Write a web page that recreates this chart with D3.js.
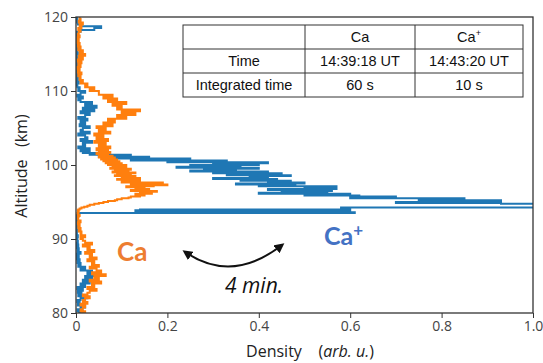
<!DOCTYPE html>
<html>
<head>
<meta charset="utf-8">
<script src="https://cdn.jsdelivr.net/npm/d3@7"></script>
<style>
  body { margin: 0; background: #fff; }
  svg { display: block; }
  text { white-space: pre; }
</style>
</head>
<body>
<script>
// altitude grid (km): 0.25 km steps, 0.125 km steps through the main layer
var altitude = [
  80.00, 80.25, 80.50, 80.75, 81.00, 81.25, 81.50, 81.75, 82.00, 82.25, 82.50, 82.75,
  83.00, 83.25, 83.50, 83.75, 84.00, 84.25, 84.50, 84.75, 85.00, 85.25, 85.50, 85.75,
  86.00, 86.25, 86.50, 86.75, 87.00, 87.25, 87.50, 87.75, 88.00, 88.25, 88.50, 88.75,
  89.00, 89.25, 89.50, 89.75, 90.00, 90.25, 90.50, 90.75, 91.00, 91.25, 91.50, 91.75,
  92.00, 92.25, 92.50, 92.75,
  93.000, 93.125, 93.250, 93.375, 93.500, 93.625, 93.750, 93.875,
  94.000, 94.125, 94.250, 94.375, 94.500, 94.625, 94.750, 94.875,
  95.000, 95.125, 95.250, 95.375, 95.500, 95.625, 95.750, 95.875,
  96.000, 96.125, 96.250, 96.375, 96.500, 96.625, 96.750, 96.875,
  97.000, 97.125, 97.250, 97.375, 97.500, 97.625, 97.750, 97.875,
  98.000, 98.125, 98.250, 98.375, 98.500, 98.625, 98.750, 98.875,
  99.000, 99.125, 99.250, 99.375, 99.500, 99.625, 99.750, 99.875,
  100.000, 100.125, 100.250, 100.375, 100.500, 100.625, 100.750, 100.875,
  101.000, 101.125, 101.250, 101.375, 101.500, 101.625, 101.750, 101.875,
  102.00, 102.25, 102.50, 102.75, 103.00, 103.25, 103.50, 103.75,
  104.00, 104.25, 104.50, 104.75, 105.00, 105.25, 105.50, 105.75, 106.00, 106.25, 106.50, 106.75,
  107.00, 107.25, 107.50, 107.75, 108.00, 108.25, 108.50, 108.75, 109.00, 109.25, 109.50, 109.75,
  110.00, 110.25, 110.50, 110.75, 111.00, 111.25, 111.50, 111.75, 112.00, 112.25, 112.50, 112.75,
  113.00, 113.25, 113.50, 113.75, 114.00, 114.25, 114.50, 114.75, 115.00, 115.25, 115.50, 115.75,
  116.00, 116.25, 116.50, 116.75, 117.00, 117.25, 117.50, 117.75, 118.00, 118.25, 118.50, 118.75,
  119.00, 119.25, 119.50, 119.75, 120.00
];

// Ca density (orange), one row per km
var caDensity = [
  0.010, 0.020, 0.010, 0.015,
  0.020, 0.010, 0.025, 0.015,
  0.020, 0.030, 0.015, 0.025,
  0.030, 0.045, 0.025, 0.040,
  0.035, 0.055, 0.030, 0.050,
  0.040, 0.065, 0.035, 0.055,
  0.045, 0.030, 0.050, 0.035,
  0.040, 0.025, 0.045, 0.030,
  0.035, 0.020, 0.040, 0.025,
  0.030, 0.015, 0.035, 0.020,
  0.015, 0.010, 0.020, 0.010,
  0.012, 0.006, 0.010, 0.005,
  0.008, 0.004, 0.010, 0.005,
  0.004, 0.006, 0.008, 0.004, 0.003, 0.005, 0.006, 0.004,
  0.005, 0.008, 0.012, 0.018, 0.025, 0.030, 0.040, 0.050,
  0.060, 0.070, 0.085, 0.090, 0.100, 0.115, 0.120, 0.140,
  0.150, 0.130, 0.166, 0.140, 0.177, 0.120, 0.160, 0.130,
  0.150, 0.110, 0.170, 0.200, 0.120, 0.190, 0.100, 0.140,
  0.120, 0.090, 0.140, 0.100, 0.130, 0.085, 0.120, 0.090,
  0.130, 0.080, 0.115, 0.085, 0.120, 0.075, 0.110, 0.080,
  0.110, 0.070, 0.100, 0.065, 0.095, 0.060, 0.090, 0.055,
  0.085, 0.050, 0.080, 0.050, 0.070, 0.045, 0.075, 0.050,
  0.070, 0.045, 0.075, 0.050,
  0.065, 0.040, 0.070, 0.045,
  0.060, 0.040, 0.075, 0.050,
  0.065, 0.045, 0.080, 0.060,
  0.085, 0.070, 0.110, 0.090,
  0.130, 0.100, 0.140, 0.090,
  0.100, 0.080, 0.110, 0.070,
  0.090, 0.060, 0.080, 0.050,
  0.050, 0.030, 0.040, 0.020,
  0.025, 0.010, 0.015, 0.008,
  0.010, 0.005, 0.012, 0.004,
  0.008, 0.003, 0.010, 0.005,
  0.012, 0.004, 0.015, 0.006,
  0.020, 0.008, 0.015, 0.005,
  0.010, 0.004, 0.008, 0.003,
  0.006, 0.003, 0.008, 0.004,
  0.006, 0.010, 0.005, 0.012,
  0.008, 0.015, 0.006, 0.010,
  0.008
];

// Ca+ density (blue), one row per km
var caPlusDensity = [
  0.005, 0.015, 0.003, 0.010,
  0.020, 0.004, 0.008, 0.003,
  0.010, 0.025, 0.005, 0.012,
  0.004, 0.015, 0.003, 0.020,
  0.010, 0.030, 0.015, 0.035,
  0.020, 0.040, 0.025, 0.035,
  0.010, 0.020, 0.005, 0.010,
  0.003, 0.008, 0.002, 0.006,
  0.002, 0.010, 0.003, 0.006,
  0.002, 0.005, 0.001, 0.004,
  0.003, 0.001, 0.004, 0.002,
  0.001, 0.003, 0.001, 0.002,
  0.002, 0.001, 0.003, 0.001,
  0.002, 0.003, 0.001, 0.004, 0.005, 0.610, 0.600, 0.130,
  0.140, 0.600, 0.580, 1.100, 1.150, 1.120, 1.050, 0.930,
  0.700, 0.900, 0.930, 0.750, 0.850, 0.600, 0.700, 0.620,
  0.500, 0.600, 0.400, 0.550, 0.450, 0.560, 0.420, 0.570,
  0.500, 0.570, 0.400, 0.480, 0.350, 0.500, 0.420, 0.470,
  0.360, 0.440, 0.300, 0.420, 0.380, 0.470, 0.330, 0.450,
  0.300, 0.420, 0.250, 0.350, 0.280, 0.400, 0.220, 0.360,
  0.250, 0.400, 0.300, 0.420, 0.200, 0.330, 0.120, 0.250,
  0.080, 0.160, 0.050, 0.120, 0.030, 0.060, 0.015, 0.030,
  0.010, 0.030, 0.005, 0.020,
  0.015, 0.035, 0.010, 0.025,
  0.020, 0.005, 0.030, 0.010,
  0.015, 0.030, 0.008, 0.020,
  0.010, 0.025, 0.005, 0.020,
  0.030, 0.010, 0.040, 0.015,
  0.045, 0.020, 0.035, 0.010,
  0.005, 0.015, 0.003, 0.010,
  0.020, 0.005, 0.008, 0.003,
  0.002, 0.006, 0.002, 0.004,
  0.002, 0.005, 0.001, 0.004,
  0.002, 0.001, 0.004, 0.002,
  0.003, 0.001, 0.005, 0.002,
  0.001, 0.004, 0.002, 0.001,
  0.003, 0.001, 0.006, 0.002,
  0.002, 0.004, 0.001, 0.003,
  0.002, 0.010, 0.040, 0.055,
  0.010, 0.004, 0.002, 0.003,
  0.002
];

var xTicks = [0, 0.2, 0.4, 0.6, 0.8, 1.0];
var xTickLabels = ["0", "0.2", "0.4", "0.6", "0.8", "1.0"];
var yTicks = [80, 90, 100, 110, 120];

var tableRows = [
  ["", "Ca", "Ca+"],
  ["Time", "14:39:18 UT", "14:43:20 UT"],
  ["Integrated time", "60 s", "10 s"]
];

var W = 543, H = 363;
var margin = {top: 17, right: 10, bottom: 50, left: 76};
var width = 533 - margin.left, height = 313 - margin.top;

var svg = d3.select("body").append("svg")
  .attr("width", W)
  .attr("height", H);

var defs = svg.append("defs");
defs.append("clipPath").attr("id", "plotclip")
  .append("rect").attr("width", width).attr("height", height);
defs.append("marker")
  .attr("id", "arrowhead")
  .attr("viewBox", "0 0 10 10")
  .attr("refX", 7).attr("refY", 5)
  .attr("markerWidth", 5).attr("markerHeight", 5)
  .attr("orient", "auto-start-reverse")
  .append("path").attr("d", "M0,0 L10,5 L0,10 z").attr("fill", "#111");

var g = svg.append("g")
  .attr("transform", "translate(" + margin.left + "," + margin.top + ")");

var x = d3.scaleLinear().domain([0, 1]).range([0, width]);
var y = d3.scaleLinear().domain([80, 120]).range([height, 0]);

// horizontal runs at each altitude bin
var line = d3.line()
  .curve(d3.curveStepAfter)
  .x(function(d) { return x(d[0]); })
  .y(function(d) { return y(d[1]); });

var plot = g.append("g").attr("clip-path", "url(#plotclip)");

plot.append("path")
  .datum(caPlusDensity.map(function(v, i) { return [v, altitude[i]]; }))
  .attr("d", line)
  .attr("fill", "none")
  .attr("stroke", "#1f77b4")
  .attr("stroke-width", 2);

plot.append("path")
  .datum(caDensity.map(function(v, i) { return [v, altitude[i]]; }))
  .attr("d", line)
  .attr("fill", "none")
  .attr("stroke", "#ff7f0e")
  .attr("stroke-width", 2);

// frame
g.append("rect")
  .attr("width", width).attr("height", height)
  .attr("fill", "none").attr("stroke", "#333").attr("stroke-width", 1.3);

var xAxis = d3.axisBottom(x).tickValues(xTicks)
  .tickFormat(function(d, i) { return xTickLabels[i]; })
  .tickSize(5).tickPadding(3);
var yAxis = d3.axisLeft(y).tickValues(yTicks).tickSize(5).tickPadding(3);

var gx = g.append("g").attr("transform", "translate(0," + height + ")").call(xAxis);
var gy = g.append("g").call(yAxis);
[gx, gy].forEach(function(a) {
  a.select(".domain").remove();
  a.selectAll(".tick line").attr("stroke", "#333");
  a.selectAll(".tick text")
    .attr("fill", "#444")
    .style("font-family", "'Open Sans', sans-serif")
    .style("font-size", "14px");
});

// axis titles
var xt = svg.append("text")
  .attr("x", 310).attr("y", 357)
  .attr("text-anchor", "middle")
  .style("font-family", "'Open Sans', sans-serif")
  .style("font-size", "16px")
  .attr("fill", "#222");
xt.append("tspan").text("Density    (");
xt.append("tspan").style("font-style", "italic").text("arb. u.");
xt.append("tspan").text(")");

svg.append("text")
  .attr("transform", "translate(27,166) rotate(-90)")
  .attr("text-anchor", "middle")
  .style("font-family", "'Open Sans', sans-serif")
  .style("font-size", "16px")
  .attr("fill", "#222")
  .text("Altitude   (km)");

// table
var colX = [183, 305, 415, 523];
var rowY = [25, 49, 73, 97];
var tbl = svg.append("g");
tbl.append("rect")
  .attr("x", colX[0]).attr("y", rowY[0])
  .attr("width", colX[3] - colX[0]).attr("height", rowY[3] - rowY[0])
  .attr("fill", "#fff").attr("stroke", "#333").attr("stroke-width", 1);
rowY.slice(1, 3).forEach(function(yy) {
  tbl.append("line").attr("x1", colX[0]).attr("x2", colX[3])
    .attr("y1", yy).attr("y2", yy).attr("stroke", "#333");
});
colX.slice(1, 3).forEach(function(xx) {
  tbl.append("line").attr("x1", xx).attr("x2", xx)
    .attr("y1", rowY[0]).attr("y2", rowY[3]).attr("stroke", "#333");
});
tableRows.forEach(function(row, r) {
  row.forEach(function(cell, c) {
    var t = tbl.append("text")
      .attr("x", (colX[c] + colX[c + 1]) / 2)
      .attr("y", (rowY[r] + rowY[r + 1]) / 2 + 5)
      .attr("text-anchor", "middle")
      .style("font-family", "'Liberation Sans', Arial, sans-serif")
      .style("font-size", "14.5px")
      .attr("fill", "#111");
    if (cell.slice(-1) === "+") {
      t.append("tspan").text(cell.slice(0, -1));
      t.append("tspan").attr("dy", -6).style("font-size", "9px").text("+");
    } else {
      t.text(cell);
    }
  });
});

// species labels
svg.append("text")
  .attr("x", 117).attr("y", 261)
  .style("font-family", "Lato, sans-serif")
  .style("font-weight", "bold")
  .style("font-size", "26px")
  .attr("fill", "#ed7d31")
  .text("Ca");

var cp = svg.append("text")
  .attr("x", 324).attr("y", 245)
  .style("font-family", "Lato, sans-serif")
  .style("font-weight", "bold")
  .style("font-size", "25px")
  .attr("fill", "#4472c4");
cp.append("tspan").text("Ca");
cp.append("tspan").attr("dy", -9).style("font-size", "17px").text("+");

// curved double arrow
svg.append("path")
  .attr("d", "M185,252 Q232,284 282,245")
  .attr("fill", "none")
  .attr("stroke", "#111")
  .attr("stroke-width", 2)
  .attr("marker-start", "url(#arrowhead)")
  .attr("marker-end", "url(#arrowhead)");

svg.append("text")
  .attr("x", 225).attr("y", 293)
  .style("font-family", "'Open Sans', sans-serif")
  .style("font-style", "italic")
  .style("font-size", "21px")
  .attr("fill", "#111")
  .text("4 min.");
</script>
</body>
</html>
